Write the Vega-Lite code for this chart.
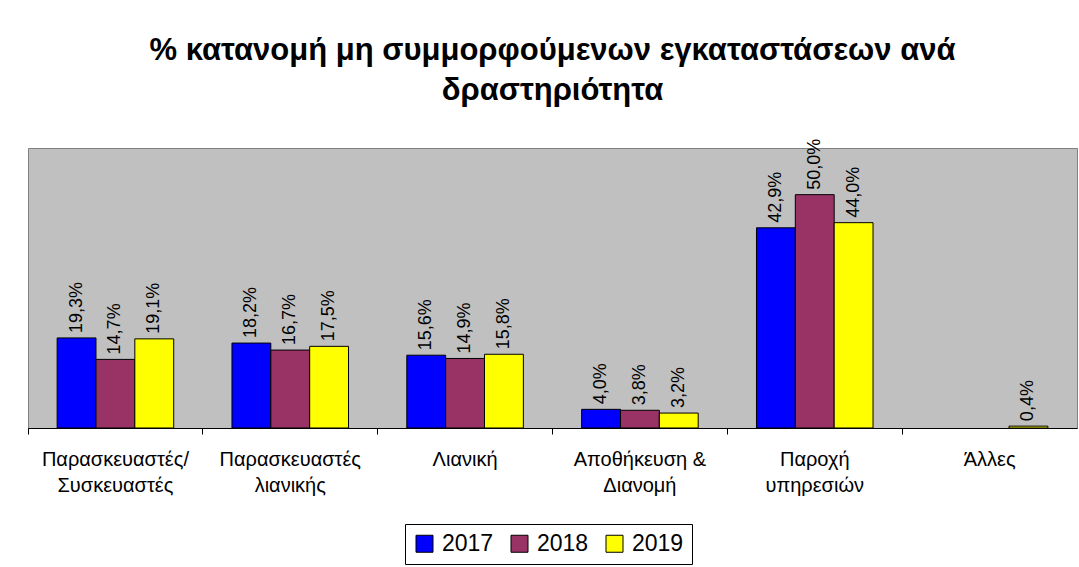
{
  "$schema": "https://vega.github.io/schema/vega-lite/v6.json",
  "width": 1049,
  "height": 280,
  "autosize": {"type": "none"},
  "padding": {"left": 28, "top": 148, "right": 2, "bottom": 139},
  "background": "white",
  "title": {
    "text": ["% κατανομή μη συμμορφούμενων εγκαταστάσεων ανά", "δραστηριότητα"],
    "font": "Liberation Sans",
    "fontSize": 31,
    "fontWeight": "bold",
    "color": "black",
    "lineHeight": 40,
    "anchor": "middle",
    "offset": 32
  },
  "config": {
    "locale": {"number": {"decimal": ",", "thousands": ".", "grouping": [3], "currency": ["", "€"]}},
    "view": {"fill": "#C0C0C0", "stroke": "#808080", "strokeWidth": 1},
    "font": "Liberation Sans"
  },
  "data": {
    "values": [
      {"category": "Παρασκευαστές/|Συσκευαστές", "year": "2017", "value": 0.193},
      {"category": "Παρασκευαστές/|Συσκευαστές", "year": "2018", "value": 0.147},
      {"category": "Παρασκευαστές/|Συσκευαστές", "year": "2019", "value": 0.191},
      {"category": "Παρασκευαστές|λιανικής", "year": "2017", "value": 0.182},
      {"category": "Παρασκευαστές|λιανικής", "year": "2018", "value": 0.167},
      {"category": "Παρασκευαστές|λιανικής", "year": "2019", "value": 0.175},
      {"category": "Λιανική", "year": "2017", "value": 0.156},
      {"category": "Λιανική", "year": "2018", "value": 0.149},
      {"category": "Λιανική", "year": "2019", "value": 0.158},
      {"category": "Αποθήκευση &|Διανομή", "year": "2017", "value": 0.04},
      {"category": "Αποθήκευση &|Διανομή", "year": "2018", "value": 0.038},
      {"category": "Αποθήκευση &|Διανομή", "year": "2019", "value": 0.032},
      {"category": "Παροχή|υπηρεσιών", "year": "2017", "value": 0.429},
      {"category": "Παροχή|υπηρεσιών", "year": "2018", "value": 0.5},
      {"category": "Παροχή|υπηρεσιών", "year": "2019", "value": 0.44},
      {"category": "Άλλες", "year": "2019", "value": 0.004}
    ]
  },
  "encoding": {
    "x": {
      "field": "category",
      "type": "nominal",
      "sort": null,
      "scale": {"paddingInner": 0, "paddingOuter": 0},
      "axis": {
        "title": null,
        "labelFont": "Liberation Sans",
        "labelFontSize": 20,
        "labelColor": "black",
        "labelAngle": 0,
        "labelAlign": "center",
        "labelBaseline": "top",
        "labelPadding": 15,
        "labelLineHeight": 26,
        "labelLimit": 0,
        "labelExpr": "split(datum.label, '|')",
        "bandPosition": 0,
        "domainColor": "black",
        "domainWidth": 1,
        "tickColor": "black",
        "tickSize": 6,
        "grid": false
      }
    },
    "xOffset": {
      "field": "year",
      "type": "nominal",
      "scale": {"domain": ["2017", "2018", "2019"], "paddingInner": 0, "paddingOuter": 0.75}
    },
    "y": {
      "field": "value",
      "type": "quantitative",
      "scale": {"domain": [0, 0.6], "nice": false},
      "axis": null
    }
  },
  "layer": [
    {
      "mark": {"type": "bar", "stroke": "black", "strokeWidth": 1},
      "encoding": {
        "color": {
          "field": "year",
          "type": "nominal",
          "scale": {"domain": ["2017", "2018", "2019"], "range": ["#0000FF", "#993366", "#FFFF00"]},
          "legend": {
            "title": null,
            "orient": "none",
            "legendX": 377,
            "legendY": 376,
            "direction": "horizontal",
            "strokeColor": "black",
            "fillColor": "white",
            "padding": 8,
            "symbolType": "square",
            "symbolSize": 289,
            "symbolStrokeColor": "black",
            "symbolStrokeWidth": 1,
            "symbolOpacity": 1,
            "labelFont": "Liberation Sans",
            "labelFontSize": 23,
            "labelColor": "black",
            "columnPadding": 14,
            "labelOffset": 6
          }
        }
      }
    },
    {
      "mark": {"type": "text", "angle": 270, "align": "left", "baseline": "middle", "dx": 5, "fontSize": 18, "font": "Liberation Sans", "color": "black"},
      "encoding": {
        "text": {"field": "value", "type": "quantitative", "format": ".1%"}
      }
    }
  ]
}
